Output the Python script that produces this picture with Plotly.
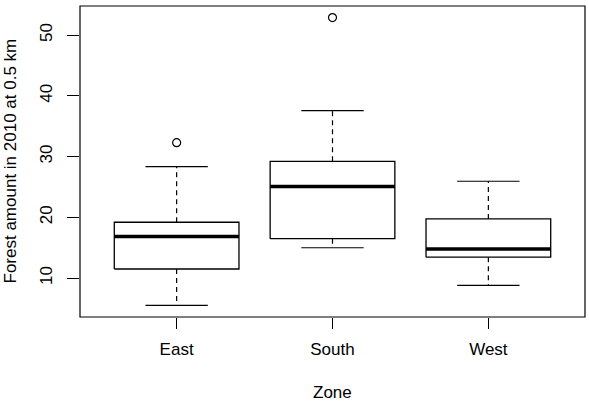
import plotly.graph_objects as go

zones = ["East", "South", "West"]
lower_whisker = [5.5, 15.0, 8.8]
q1 = [11.5, 16.5, 13.45]
median = [16.85, 25.07, 14.8]
q3 = [19.2, 29.23, 19.75]
upper_whisker = [28.35, 37.56, 25.95]
outlier_zone = ["East", "South"]
outlier_value = [32.3, 52.9]

y_ticks = [10, 20, 30, 40, 50]
x_title = "Zone"
y_title = "Forest amount in 2010 at 0.5 km"

FONT = "Liberation Sans, Arial, sans-serif"
BW = 0.4   # half box width
SW = 0.2   # half staple width

fig = go.Figure()
pos = {z: i + 1 for i, z in enumerate(zones)}

for z, lw, a, m, b, uw in zip(zones, lower_whisker, q1, median, q3, upper_whisker):
    p = pos[z]
    # whiskers (dashed)
    fig.add_trace(go.Scatter(x=[p, p, None, p, p], y=[b, uw, None, a, lw], mode="lines",
                             line=dict(color="black", width=1.2, dash="5px,4px"),
                             showlegend=False, hoverinfo="skip"))
    # staples
    fig.add_trace(go.Scatter(x=[p - SW, p + SW, None, p - SW, p + SW], y=[uw, uw, None, lw, lw],
                             mode="lines", line=dict(color="black", width=1.2),
                             showlegend=False, hoverinfo="skip"))
    # box
    fig.add_trace(go.Scatter(x=[p - BW, p + BW, p + BW, p - BW, p - BW], y=[a, a, b, b, a],
                             mode="lines", line=dict(color="black", width=1.3),
                             fill="toself", fillcolor="white",
                             showlegend=False, hoverinfo="skip"))
    # median
    fig.add_trace(go.Scatter(x=[p - BW, p + BW], y=[m, m], mode="lines",
                             line=dict(color="black", width=3.5),
                             showlegend=False, hoverinfo="skip"))

fig.add_trace(go.Scatter(x=[pos[z] for z in outlier_zone], y=outlier_value, mode="markers",
                         marker=dict(symbol="circle-open", size=8, color="black",
                                     line=dict(width=1.2)),
                         showlegend=False, hoverinfo="skip"))

fig.add_shape(type="rect", xref="paper", yref="paper", x0=0, x1=1, y0=0, y1=1,
              line=dict(color="black", width=1.2))

fig.update_layout(
    width=589, height=407,
    margin=dict(l=80, r=4, t=6, b=90),
    paper_bgcolor="white", plot_bgcolor="white",
    font=dict(family=FONT, size=17, color="black"),
    xaxis=dict(range=[0.38, 3.62], tickmode="array", tickvals=[1, 2, 3], ticktext=zones,
               ticks="outside", ticklen=11, tickcolor="black", tickwidth=1,
               showgrid=False, zeroline=False, showline=False, ticklabelstandoff=6),
    yaxis=dict(range=[3.6, 54.8], tickmode="array", tickvals=y_ticks,
               ticks="outside", ticklen=12, tickcolor="black", tickwidth=1,
               tickangle=-90, showgrid=False, zeroline=False, showline=False,
               ticklabelstandoff=8),
    annotations=[
        dict(text=x_title, xref="paper", yref="paper", x=0.5, y=0, yshift=-75,
             showarrow=False, font=dict(size=17), xanchor="center", yanchor="middle"),
        dict(text=y_title, xref="paper", yref="paper", x=0, xshift=-70, y=0.5,
             textangle=-90, showarrow=False, font=dict(size=17),
             xanchor="center", yanchor="middle"),
    ],
)

fig.write_html("out.html")
